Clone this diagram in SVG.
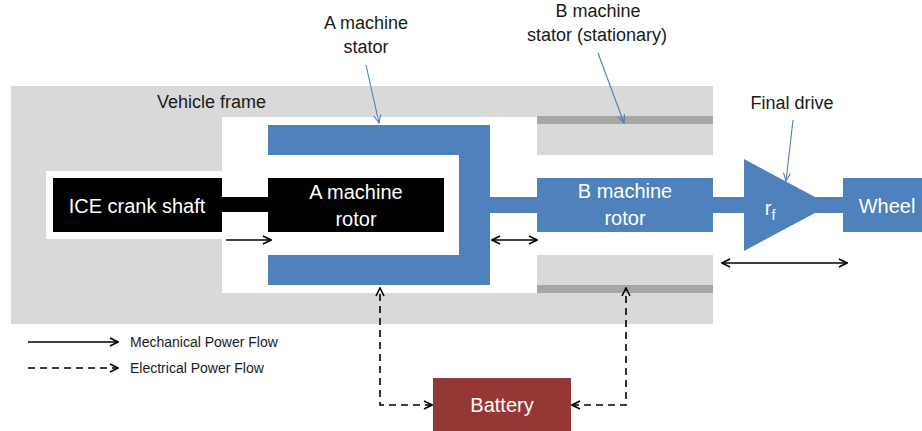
<svg xmlns="http://www.w3.org/2000/svg" width="922" height="431" viewBox="0 0 922 431">
  <defs>
    <marker id="openHead" viewBox="0 0 10 10" refX="9" refY="5" markerWidth="10" markerHeight="10" markerUnits="userSpaceOnUse" orient="auto-start-reverse">
      <polyline points="1,1 9,5 1,9" fill="none" stroke="#000" stroke-width="1.6"/>
    </marker>
    <marker id="leaderHead" viewBox="0 0 10 10" refX="9" refY="5" markerWidth="10" markerHeight="10" markerUnits="userSpaceOnUse" orient="auto">
      <polyline points="1,1.5 9,5 1,8.5" fill="none" stroke="#4A7EBB" stroke-width="1.1"/>
    </marker>
    <style>
      .lbl { font-family: "Liberation Sans", Arial, sans-serif; font-size: 18px; fill: #1a1a1a; }
      .inner { font-family: "Liberation Sans", Arial, sans-serif; font-size: 20px; fill: #ffffff; text-anchor: middle; }
      .legend { font-family: "Liberation Sans", Arial, sans-serif; font-size: 14px; fill: #1a1a1a; }
      .blue { fill: #4F81BD; }
      .frame { fill: #D9D9D9; }
      .strip { fill: #A6A6A6; }
      .mech { fill: none; stroke: #000; stroke-width: 1.6; }
      .elec { fill: none; stroke: #000; stroke-width: 1.6; stroke-dasharray: 7 5; }
      .leader { fill: none; stroke: #4A7EBB; stroke-width: 1.1; }
    </style>
  </defs>

  <rect width="922" height="431" fill="#ffffff"/>

  <!-- vehicle frame with its open housing -->
  <g id="vehicle-frame">
    <rect class="frame" x="11" y="86" width="702" height="238"/>
    <rect x="222" y="117" width="491" height="176" fill="#ffffff"/>
    <rect x="46" y="171" width="176" height="68" fill="#ffffff"/>
    <text class="lbl" x="157" y="108">Vehicle frame</text>
  </g>

  <!-- engine crankshaft -->
  <g id="ice-crank-shaft">
    <rect x="53" y="178" width="169" height="54" fill="#000"/>
    <rect x="220" y="197" width="50" height="15" fill="#000"/>
    <text class="inner" x="137" y="213">ICE crank shaft</text>
  </g>

  <!-- A machine rotor -->
  <g id="a-machine-rotor">
    <rect x="268" y="178" width="176" height="54" fill="#000"/>
    <text class="inner" x="356" y="199" font-size="20.5">A machine</text>
    <text class="inner" x="356" y="226" font-size="20.5">rotor</text>
  </g>

  <!-- A machine stator (C-shaped) -->
  <g id="a-machine-stator">
    <path class="blue" d="M268,125 H490 V285 H268 V255 H459 V155 H268 Z"/>
    <rect class="blue" x="488" y="197" width="51" height="16"/>
    <text class="lbl" x="366" y="29" text-anchor="middle">A machine</text>
    <text class="lbl" x="366" y="53" text-anchor="middle">stator</text>
  </g>

  <!-- B machine stator -->
  <g id="b-machine-stator">
    <rect class="frame" x="537" y="86" width="176" height="69"/>
    <rect class="strip" x="537" y="116" width="176" height="8"/>
    <rect class="frame" x="537" y="255" width="176" height="38"/>
    <rect class="strip" x="537" y="285" width="176" height="8"/>
    <text class="lbl" x="598" y="17" text-anchor="middle">B machine</text>
    <text class="lbl" x="597" y="41" text-anchor="middle" font-size="19">stator (stationary)</text>
  </g>

  <!-- B machine rotor -->
  <g id="b-machine-rotor">
    <rect class="blue" x="537" y="178" width="176" height="54"/>
    <rect class="blue" x="711" y="197" width="36" height="16"/>
    <text class="inner" x="625" y="198">B machine</text>
    <text class="inner" x="625" y="225">rotor</text>
  </g>

  <!-- final drive -->
  <g id="final-drive">
    <polygon class="blue" points="744,159 744,251 830,205"/>
    <rect class="blue" x="812" y="197" width="33" height="16"/>
    <text class="inner" x="770" y="215">r<tspan font-size="14" dy="5">f</tspan></text>
    <text class="lbl" x="792" y="109" text-anchor="middle">Final drive</text>
  </g>

  <!-- wheel -->
  <g id="wheel">
    <rect class="blue" x="843" y="178" width="79" height="54"/>
    <text class="inner" x="887" y="213" font-size="21">Wheel</text>
  </g>

  <!-- battery -->
  <g id="battery">
    <rect x="433" y="378" width="138" height="53" fill="#953735"/>
    <text class="inner" x="502" y="412" font-size="21">Battery</text>
  </g>

  <!-- power flows and leader lines -->
  <g id="connectors">
    <line class="mech" x1="226" y1="240" x2="271" y2="240" marker-end="url(#openHead)"/>
    <line class="mech" x1="492" y1="240" x2="537" y2="240" marker-start="url(#openHead)" marker-end="url(#openHead)"/>
    <line class="mech" x1="722" y1="263" x2="847" y2="263" marker-start="url(#openHead)" marker-end="url(#openHead)"/>
    <polyline class="elec" points="432,405 380,405 380,288" marker-start="url(#openHead)" marker-end="url(#openHead)"/>
    <polyline class="elec" points="572,405 626,405 626,288" marker-start="url(#openHead)" marker-end="url(#openHead)"/>
    <line class="leader" x1="366" y1="65" x2="379" y2="123" marker-end="url(#leaderHead)"/>
    <line class="leader" x1="598" y1="53" x2="624" y2="123" marker-end="url(#leaderHead)"/>
    <line class="leader" x1="793" y1="120" x2="786" y2="181" marker-end="url(#leaderHead)"/>
  </g>

  <!-- legend -->
  <g id="legend">
    <line class="mech" x1="28" y1="342" x2="118" y2="342" marker-end="url(#openHead)"/>
    <text class="legend" x="130" y="347">Mechanical Power Flow</text>
    <line class="elec" x1="28" y1="368" x2="118" y2="368" marker-end="url(#openHead)"/>
    <text class="legend" x="130" y="373">Electrical Power Flow</text>
  </g>
</svg>
